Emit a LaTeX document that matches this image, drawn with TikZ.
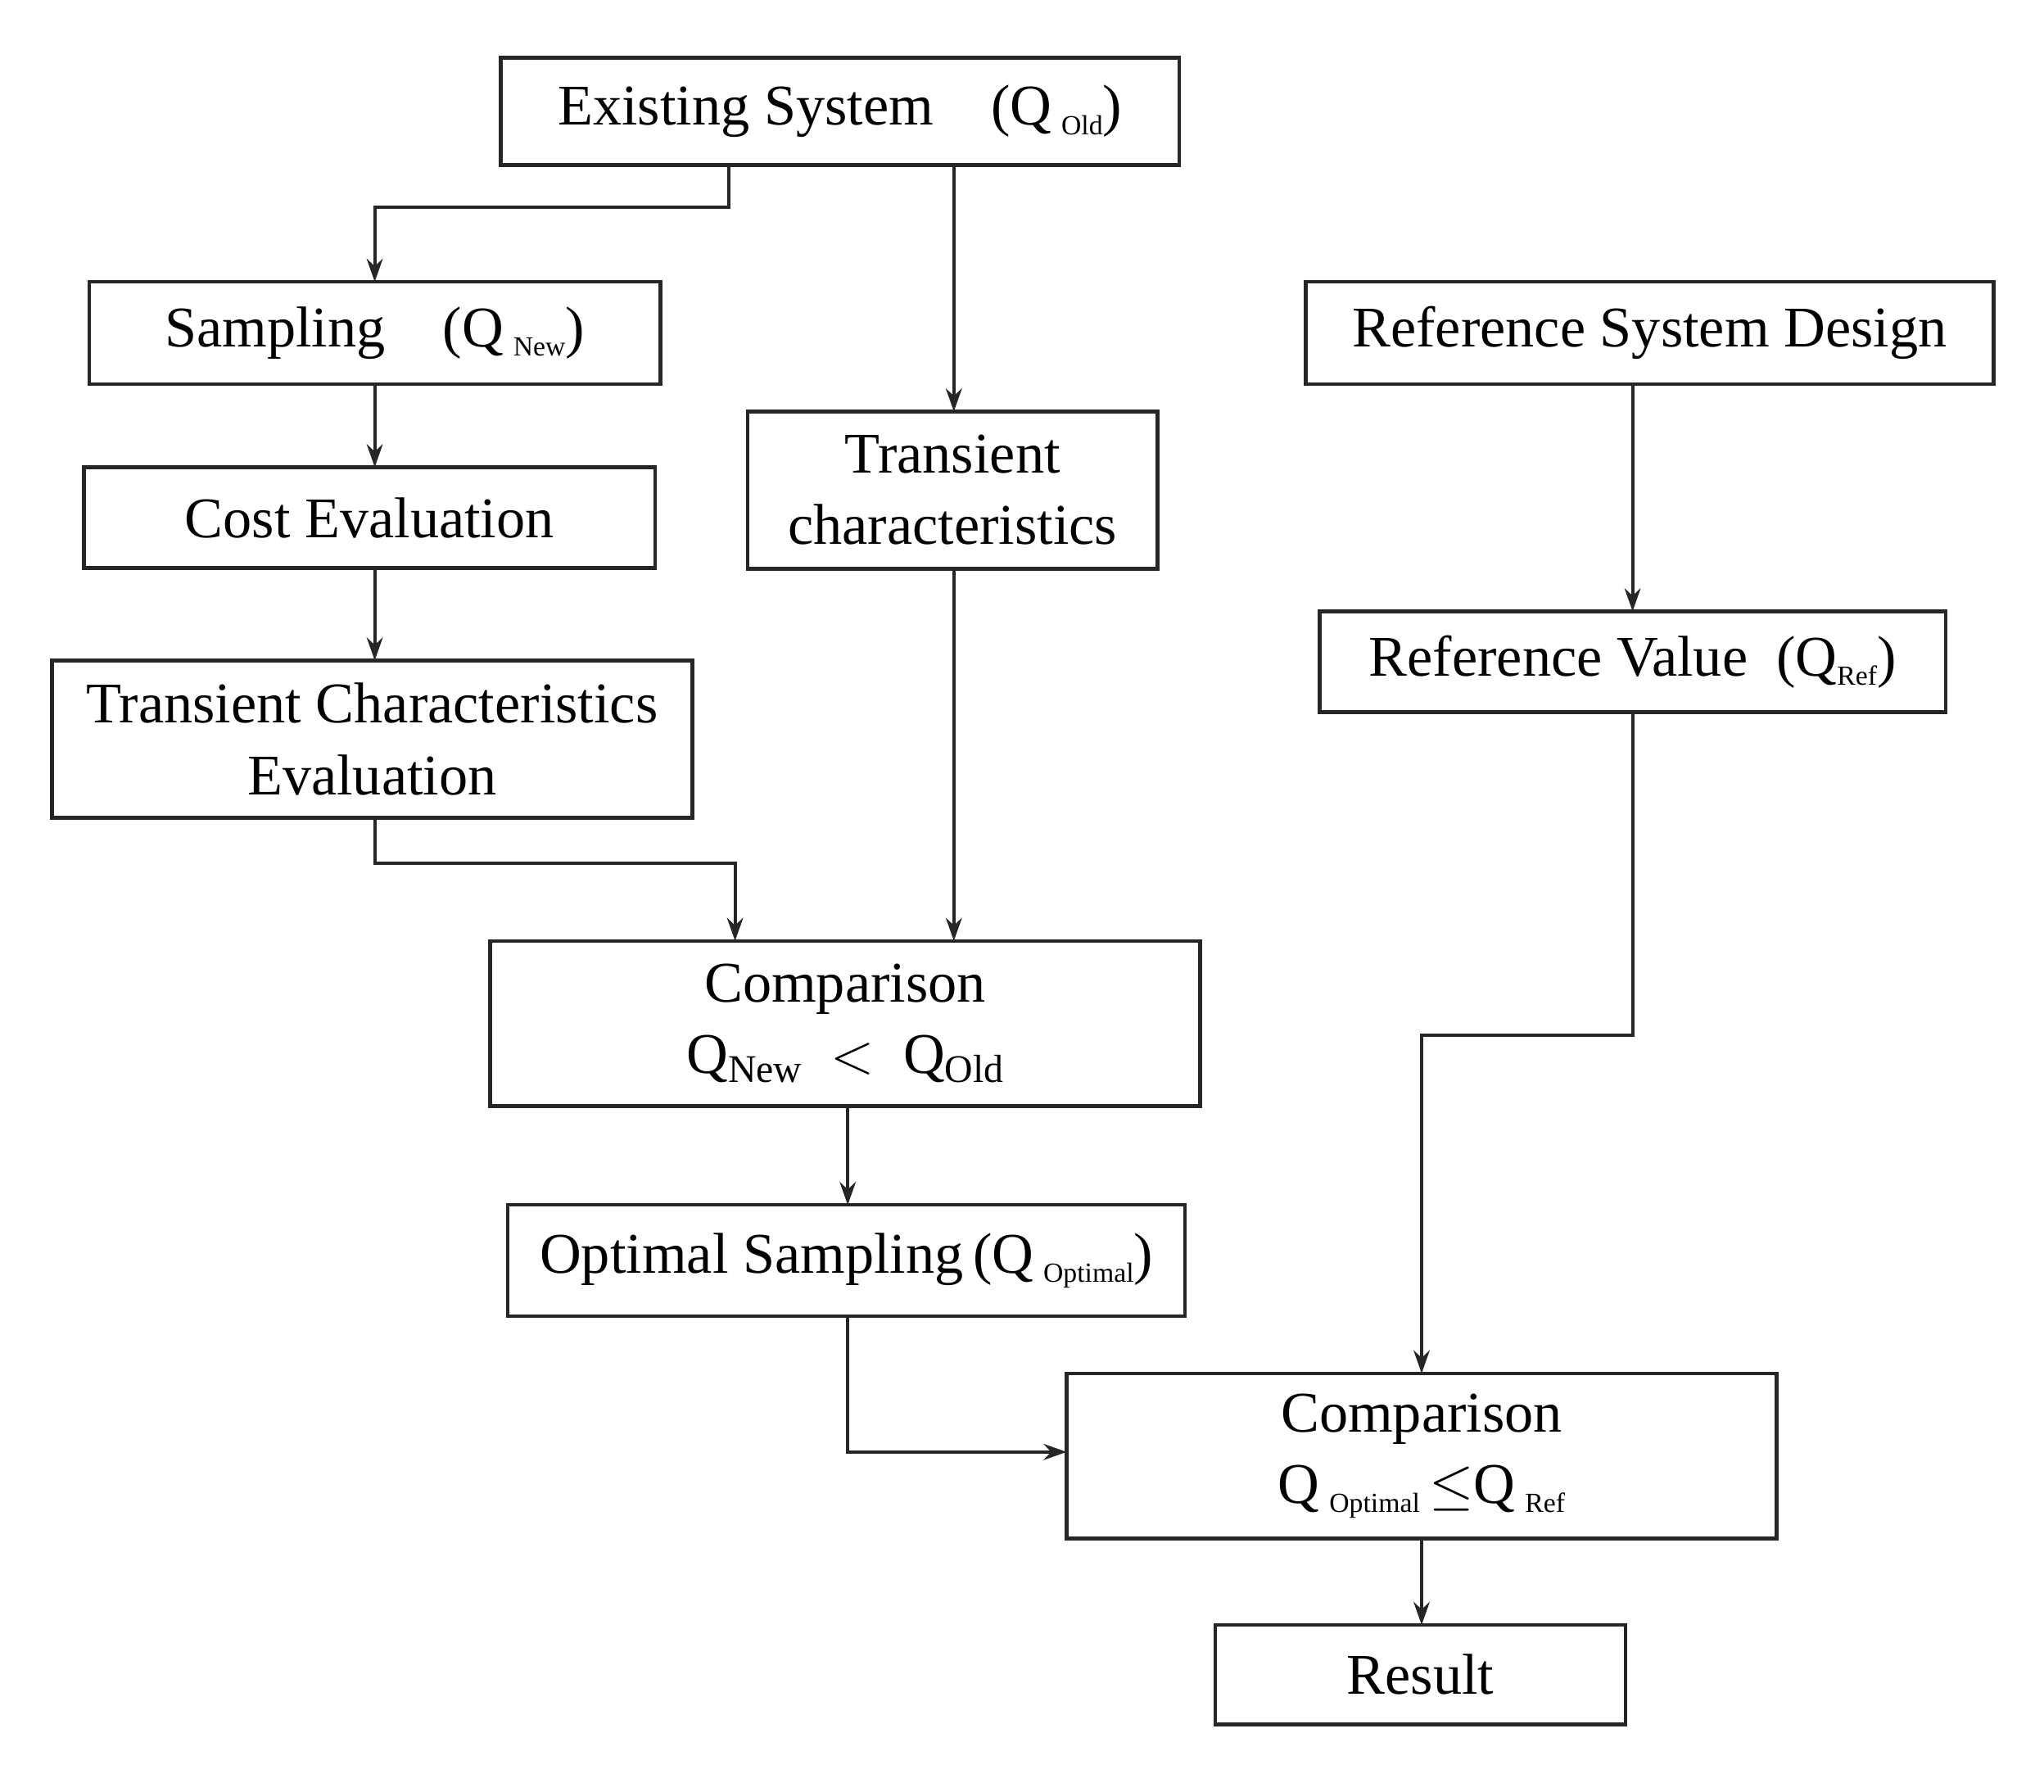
\documentclass[tikz,border=0pt]{standalone}
\usepackage{fontspec}
\setmainfont{Liberation Serif}
\usetikzlibrary{arrows.meta}
\newcommand{\lsub}[1]{\raisebox{-0.35ex}{\fontsize{12}{12}\selectfont #1}}
\newcommand{\bsub}[1]{\raisebox{-0.35ex}{\fontsize{17}{17}\selectfont #1}}
\begin{document}
\begin{tikzpicture}[x=0.02cm,y=-0.02cm,
 box/.style={draw=black!85,line width=1.6pt,inner sep=0pt,outer sep=0pt,align=center,font=\fontsize{25}{31}\selectfont},
 arr/.style={draw=black!85,line width=1.4pt,-{Stealth[length=10pt,width=7pt]}}]
\useasboundingbox (0,0) rectangle (1560,1367);
\node[box,minimum width=10.36cm,minimum height=1.64cm] (ex) at (641,85) {Existing System\quad(Q\,\lsub{Old})};
\node[box,minimum width=8.72cm,minimum height=1.56cm] (sa) at (286,254) {Sampling\quad(Q\,\lsub{New})};
\node[box,minimum width=8.72cm,minimum height=1.54cm] (co) at (282,395) {Cost Evaluation};
\node[box,minimum width=9.78cm,minimum height=2.4cm] (tce) at (284,564) {Transient Characteristics\\Evaluation};
\node[box,minimum width=6.26cm,minimum height=2.4cm] (tr) at (727,374) {Transient\\characteristics};
\node[box,minimum width=10.5cm,minimum height=1.56cm] (rd) at (1259,254) {Reference System Design};
\node[box,minimum width=9.56cm,minimum height=1.54cm] (rv) at (1246,505) {Reference Value\enspace(Q\lsub{Ref})};
\node[box,minimum width=10.84cm,minimum height=2.52cm] (c1) at (645,781) {Comparison\\Q\bsub{New}\enspace$<$\enspace Q\bsub{Old}};
\node[box,minimum width=10.34cm,minimum height=1.7cm] (op) at (646,962) {Optimal Sampling\,(Q\,\lsub{Optimal})};
\node[box,minimum width=10.84cm,minimum height=2.52cm] (c2) at (1085,1111) {Comparison\\Q\,\lsub{Optimal}\,$\leq$Q\,\lsub{Ref}};
\node[box,minimum width=6.26cm,minimum height=1.52cm] (re) at (1084,1278) {Result};
\coordinate (k1) at (556,158);
\coordinate (k2) at (728,0);
\coordinate (k3) at (561,659);
\coordinate (k4) at (1085,790);
\coordinate (k5) at (1246,790);
\coordinate (k6) at (647,1108);
\draw[arr] (ex.south -| k1) -- (k1) -| (sa.north);
\draw[arr] (ex.south -| k2) -- (tr.north -| k2);
\draw[arr] (sa) -- (co.north -| sa);
\draw[arr] (co.south -| sa) -- (tce.north -| sa);
\draw[arr] (tce.south -| sa) |- (k3) -- (c1.north -| k3);
\draw[arr] (tr.south -| k2) -- (c1.north -| k2);
\draw[arr] (c1.south -| k6) -- (op.north -| k6);
\draw[arr] (rd.south -| k5) -- (rv.north -| k5);
\draw[arr] (rv.south -| k5) -- (k5) -- (k4) -- (c2.north -| k4);
\draw[arr] (op.south -| k6) -- (k6) -- (c2.west |- k6);
\draw[arr] (c2.south -| k4) -- (re.north -| k4);
\end{tikzpicture}
\end{document}
